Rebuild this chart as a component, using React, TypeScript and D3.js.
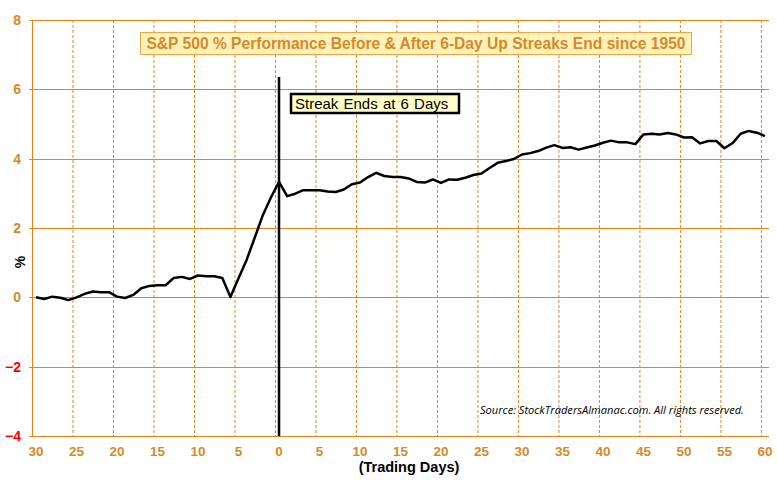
import React from "react";
import * as d3 from "d3";

const days: number[] = d3.range(-30, 61);
const perf: number[] = [
  0.0, -0.05, 0.02, -0.01, -0.08, 0.0, 0.1, 0.17, 0.15, 0.15,
  0.02, -0.02, 0.07, 0.26, 0.33, 0.35, 0.35, 0.56, 0.59, 0.53,
  0.63, 0.61, 0.61, 0.56, 0.01, 0.55, 1.08, 1.72, 2.37, 2.88,
  3.33,
  2.92, 2.99, 3.09, 3.09, 3.09, 3.05, 3.04, 3.11, 3.26, 3.31,
  3.47, 3.59, 3.5, 3.47, 3.47, 3.43, 3.33, 3.31, 3.4, 3.3,
  3.4, 3.39, 3.45, 3.53, 3.57, 3.73, 3.88, 3.93, 3.99, 4.12,
  4.16, 4.22, 4.32, 4.39, 4.31, 4.33, 4.26, 4.32, 4.38, 4.46,
  4.52, 4.47, 4.47, 4.42, 4.7, 4.72, 4.7, 4.74, 4.7, 4.61,
  4.62, 4.44, 4.51, 4.51, 4.3, 4.45, 4.72, 4.8, 4.75, 4.65,
];
const yTicks: number[] = [-4, -2, 0, 2, 4, 6, 8];
const xTickDays: number[] = days.filter((d) => d % 5 === 0);

const titleText = "S&P 500 % Performance Before & After 6-Day Up Streaks End since 1950";
const noteText = "Streak Ends at 6 Days";
const sourceText = "Source:  StockTradersAlmanac.com. All rights reserved.";

const ORANGE = "#E0861C";
const LABEL = "#D48A2C";

export default function App() {
  const W = 777, H = 480;
  const x = d3.scaleBand<number>().domain(days).range([32, 769]).paddingInner(0).paddingOuter(0);
  const y = d3.scaleLinear().domain([-4, 8]).range([436, 20]);
  const bw = x.bandwidth();
  const cx = (d: number) => (x(d) as number) + bw / 2;
  const line = d3.line<number>().x((_, i) => cx(days[i])).y((v) => y(v));
  const font = "'Liberation Sans', Arial, sans-serif";

  return (
    <svg width={W} height={H} style={{ position: "absolute", left: 0, top: 0, background: "#fff" }}>
      {/* vertical dashed gridlines */}
      {xTickDays.map((d) => (
        <line key={"v" + d} x1={(x(d) as number) + 0.5} x2={(x(d) as number) + 0.5} y1={y(8)} y2={y(-4)}
          stroke={ORANGE} strokeWidth={1} strokeDasharray="3,2" />
      ))}
      {/* horizontal gridlines */}
      {yTicks.map((t) => (
        <line key={"h" + t} x1={29} x2={769} y1={Math.round(y(t)) + 0.5} y2={Math.round(y(t)) + 0.5}
          stroke={ORANGE} strokeWidth={1} />
      ))}
      {/* left axis */}
      <line x1={32.5} x2={32.5} y1={y(8)} y2={y(-4)} stroke={ORANGE} strokeWidth={1} />
      {/* y tick labels */}
      {yTicks.map((t) => (
        <text key={"yl" + t} x={21} y={y(t)} dy="0.35em" textAnchor="end" fontFamily={font}
          fontWeight="bold" fontSize={14} fill={t < 0 ? "#FF0000" : LABEL}>
          {t < 0 ? "\u2212" + Math.abs(t) : String(t)}
        </text>
      ))}
      {/* x tick labels */}
      {xTickDays.map((d) => (
        <text key={"xl" + d} x={cx(d)} y={451} dy="0.35em" textAnchor="middle" fontFamily={font}
          fontWeight="bold" fontSize={13.5} fill={LABEL}>
          {String(Math.abs(d))}
        </text>
      ))}
      <text x={409} y={467} dy="0.35em" textAnchor="middle" fontFamily={font} fontWeight="bold" fontSize={14.5} fill="#000">
        (Trading Days)
      </text>
      <text transform={`translate(20,262) rotate(-90)`} dy="0.35em" textAnchor="middle" fontFamily={font}
        fontWeight="bold" fontSize={14} fill="#000">
        %
      </text>
      {/* streak end line */}
      <line x1={cx(0)} x2={cx(0)} y1={77} y2={y(-4)} stroke="#000" strokeWidth={2.5} />
      {/* data line */}
      <path d={line(perf) || ""} fill="none" stroke="#000" strokeWidth={2.5} strokeLinejoin="round" />
      {/* title */}
      <rect x={140.5} y={32.5} width={551} height={22} fill="#FFF2B8" stroke="#E6A848" strokeWidth={1} />
      <text x={416} y={44} dy="0.35em" textAnchor="middle" fontFamily={font} fontWeight="bold" fontSize={15.6} fill={LABEL}>
        {titleText}
      </text>
      {/* annotation */}
      <rect x={291} y={94} width={168} height={19} fill="#FFFFC8" stroke="#000" strokeWidth={2.5} />
      <text x={295} y={104} dy="0.35em" fontFamily={font} fontSize={15} fill="#000" style={{ wordSpacing: "1px" }}>
        {noteText}
      </text>
      {/* source */}
      <text x={480} y={410} dy="0.35em" fontFamily="'Open Sans', 'Noto Sans', sans-serif" fontStyle="italic"
        fontSize={11.1} fill="#000">
        {sourceText}
      </text>
    </svg>
  );
}
